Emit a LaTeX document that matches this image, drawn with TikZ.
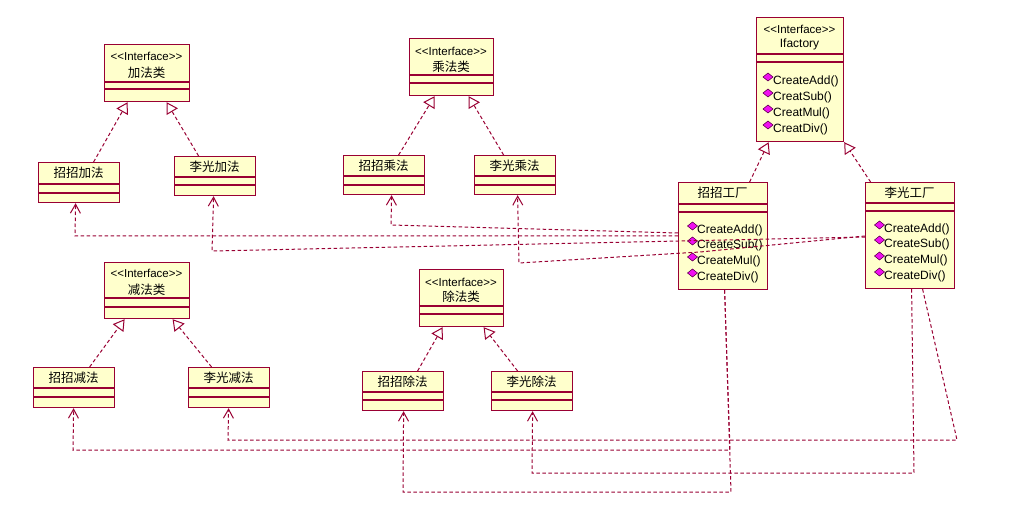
\documentclass[tikz,border=0pt]{standalone}
\usepackage{fontspec}
\setmainfont{Liberation Sans}
\newfontfamily\cjk{Noto Sans CJK SC}
\usetikzlibrary{arrows.meta}
\definecolor{umlborder}{HTML}{990033}
\definecolor{umlfill}{HTML}{FFFFCC}
\definecolor{diamc}{HTML}{F010F0}
\definecolor{diamd}{HTML}{660055}
\tikzset{
 umlbox/.style={draw=umlborder, fill=umlfill, line width=1.2pt, rectangle, inner sep=0pt, anchor=north west},
 sepline/.style={draw=umlborder, line width=1.2pt},
 dep/.style={draw=umlborder, line width=1pt, dash pattern=on 3.5pt off 2.5pt, -{Straight Barb[length=9pt,width=10pt,line width=1pt]}},
 real/.style={draw=umlborder, line width=1pt, dash pattern=on 3.5pt off 2.5pt, -{Triangle[open,length=11pt,width=13pt,line width=1pt,fill=white]}},
 stereo/.style={font=\fontsize{11.5}{12}\selectfont, inner sep=0pt},
 cname/.style={font=\cjk\fontsize{12.5}{13}\selectfont, inner sep=0pt},
 meth/.style={font=\fontsize{12}{13}\selectfont, inner sep=0pt, anchor=west},
}
\newcommand\umlbox[7]{%
 \node[umlbox, minimum width={#4pt-#2pt}, minimum height={#5pt-#3pt}] (#1) at (#2,#3) {};
 \draw[sepline] (#1.west |- 0,#6) -- (#1.east |- 0,#6);
 \draw[sepline] (#1.west |- 0,#7) -- (#1.east |- 0,#7);}
\newcommand\mdiam[2]{\fill[diamc, draw=diamd, line width=0.6pt] (#1-5,#2) -- (#1,#2-4) -- (#1+5,#2) -- (#1,#2+4) -- cycle;}
\newcommand\stereotxt{<\kern0pt<Interface>\kern0pt>}
\begin{document}
\begin{tikzpicture}[x=1pt,y=-1pt]
\fill[white] (0,0) rectangle (1027,518);
\useasboundingbox (0,0) rectangle (1027,518);
% boxes
\umlbox{iadd}{104}{44}{189}{101}{82}{89}
\umlbox{zadd}{38}{162}{119}{202}{184}{193}
\umlbox{ladd}{174}{156}{255}{195}{177}{185}
\umlbox{imul}{409}{38}{493}{95}{75}{83}
\umlbox{zmul}{343}{155}{424}{194}{176}{185}
\umlbox{lmul}{474}{155}{555}{194}{176}{185}
\umlbox{ifac}{756}{17}{843}{141}{54}{62}
\umlbox{zfac}{678}{182}{767}{289}{204}{212}
\umlbox{lfac}{865}{182}{954}{288}{203}{211}
\umlbox{isub}{104}{262}{189}{318}{298}{307}
\umlbox{zsub}{33}{367}{114}{407}{388}{397}
\umlbox{lsub}{188}{367}{269}{407}{388}{397}
\umlbox{idiv}{419}{269}{503}{326}{306}{314}
\umlbox{zdiv}{362}{371}{443}{410}{392}{400}
\umlbox{ldiv}{491}{371}{572}{410}{392}{400}
% interface texts
\node[stereo] (s1) at (146.5,56) {\stereotxt};
\node[cname] (n1) at (146.5,73) {加法类};
\node[stereo] (s2) at (451,51) {\stereotxt};
\node[cname] (n2) at (451,67) {乘法类};
\node[stereo] (s3) at (799.5,29) {\stereotxt};
\node[stereo] (n3) at (799.5,44.5) {\fontsize{12}{13}\selectfont Ifactory};
\node[stereo] (s4) at (146.5,273) {\stereotxt};
\node[cname] (n4) at (146.5,290) {减法类};
\node[stereo] (s5) at (461,282) {\stereotxt};
\node[cname] (n5) at (461,297) {除法类};
% class names
\node[cname] (c1) at (78.5,173) {招招加法};
\node[cname] (c2) at (214.5,166.5) {李光加法};
\node[cname] (c3) at (383.5,165.5) {招招乘法};
\node[cname] (c4) at (514.5,165.5) {李光乘法};
\node[cname] (c5) at (722.5,193) {招招工厂};
\node[cname] (c6) at (909.5,192.5) {李光工厂};
\node[cname] (c7) at (73.5,377.5) {招招减法};
\node[cname] (c8) at (228.5,377.5) {李光减法};
\node[cname] (c9) at (402.5,381.5) {招招除法};
\node[cname] (c10) at (531.5,381.5) {李光除法};
% methods
\mdiam{768}{77}\mdiam{768}{93}\mdiam{768}{109}\mdiam{768}{125}
\node[meth] (m1) at (773,81) {CreateAdd()};
\node[meth] (m2) at (773,97) {CreatSub()};
\node[meth] (m3) at (773,113) {CreatMul()};
\node[meth] (m4) at (773,129) {CreatDiv()};
\mdiam{692.5}{226}\mdiam{692.5}{241}\mdiam{692.5}{257}\mdiam{692.5}{273}
\node[meth] (m5) at (697,230) {CreateAdd()};
\node[meth] (m6) at (697,245) {CreateSub()};
\node[meth] (m7) at (697,261) {CreateMul()};
\node[meth] (m8) at (697,277) {CreateDiv()};
\mdiam{879.5}{225}\mdiam{879.5}{240}\mdiam{879.5}{256}\mdiam{879.5}{272}
\node[meth] (m9) at (884,229) {CreateAdd()};
\node[meth] (m10) at (884,244) {CreateSub()};
\node[meth] (m11) at (884,260) {CreateMul()};
\node[meth] (m12) at (884,276) {CreateDiv()};
% realizations
\draw[real] ([xshift=14.5pt]zadd.north) -- ([xshift=-19.5pt]iadd.south);
\draw[real] ([xshift=-16.5pt]ladd.north) -- ([xshift=19.5pt]iadd.south);
\draw[real] ([xshift=14.5pt]zmul.north) -- ([xshift=-17pt]imul.south);
\draw[real] ([xshift=-11.5pt]lmul.north) -- ([xshift=17pt]imul.south);
\draw[real] ([xshift=26.5pt]zfac.north) -- ([xshift=-31.5pt]ifac.south);
\draw[real] ([xshift=-39.5pt]lfac.north) -- (ifac.south east);
\draw[real] ([xshift=15.5pt]zsub.north) -- ([xshift=-22.5pt]isub.south);
\draw[real] ([xshift=-17.5pt]lsub.north) -- ([xshift=25.5pt]isub.south);
\draw[real] ([xshift=14.5pt]zdiv.north) -- ([xshift=-19pt]idiv.south);
\draw[real] ([xshift=-14.5pt]ldiv.north) -- ([xshift=22pt]idiv.south);
% dependencies
\draw[dep] (zfac.west |- 0,236) -- (75,236) -- ([xshift=-3.5pt]zadd.south);
\draw[dep] (zfac.west |- 0,233) -- (391,225) -- ([xshift=7.5pt]zmul.south);
\draw[dep] (lfac.west |- 0,237) -- (212,251) -- ([xshift=-1.5pt]ladd.south);
\draw[dep] (lfac.west |- 0,236) -- (700,252) -- (519,263) -- ([xshift=2.5pt]lmul.south);
\draw[dep] ([xshift=1.5pt]zfac.south) -- (730,450) -- (73,450) -- ([xshift=-0.5pt]zsub.south);
\draw[dep] ([xshift=1.5pt]zfac.south) -- (731,492) -- (403,492) -- ([xshift=0.5pt]zdiv.south);
\draw[dep] ([xshift=12.5pt]lfac.south) -- (957,440) -- (228,440) -- ([xshift=-0.5pt]lsub.south);
\draw[dep] ([xshift=1.5pt]lfac.south) -- (914,473) -- (532,473) -- ([xshift=0.5pt]ldiv.south);
\end{tikzpicture}
\end{document}
